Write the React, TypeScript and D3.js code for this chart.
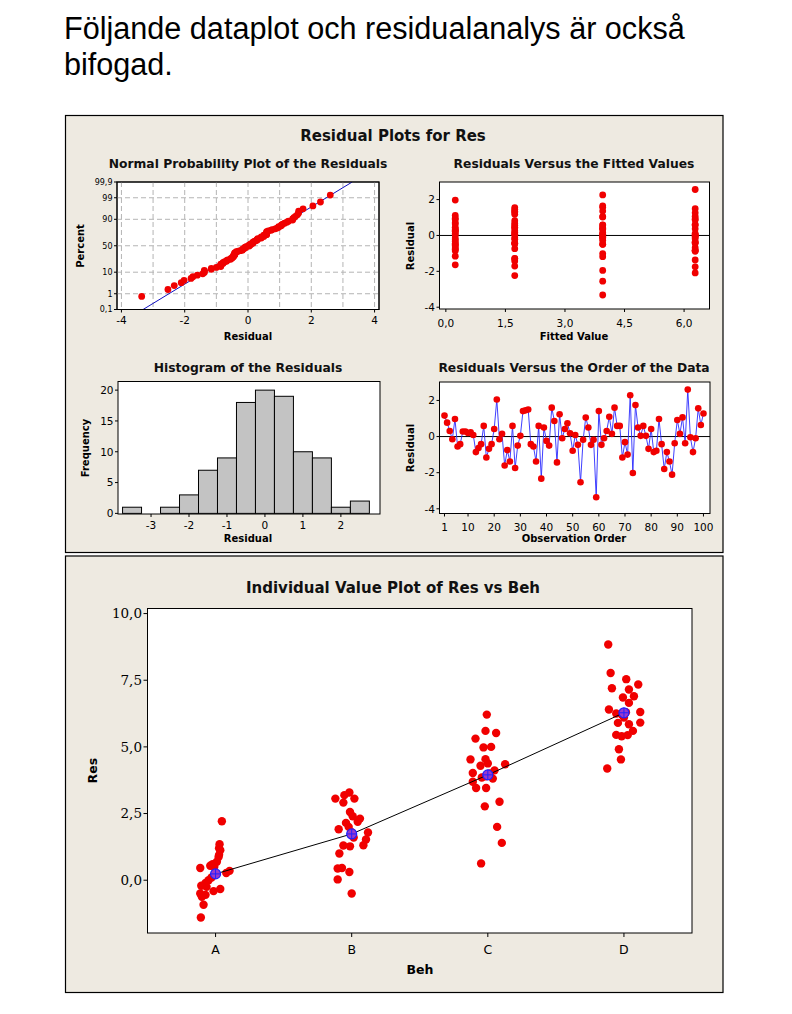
import React from 'react';
import * as d3 from 'd3';

// ---------- DATA ----------
// Residuals in observation order (1..100)
const residualsByOrder = [
  1.16, 0.77, 0.31, -0.15, 0.97, -0.55, -0.42, 0.28, 0.28, 0.2,
  0.24, 0.09, -0.86, -0.64, -0.42, 0.59, -1.16, -0.68, -0.42, 0.42,
  2.05, -0.15, 0.15, -1.6, -0.75, -1.38, 0.59, -1.74, -0.5, 0.04,
  1.41, 1.45, 1.5, -0.42, -0.55, -1.38, 0.59, -2.33, 0.5, -0.24,
  -0.5, 1.6, 0.86, -1.43, 1.23, -0.09, 0.42, 0.73, 0.18, -0.79,
  0.09, -0.46, -2.53, -0.18, 1.05, 0.5, -0.46, -0.18, -3.36, 1.41,
  -0.46, -0.09, 0.31, 1.1, 0.15, 1.6, 0.59, 0.59, -1.16, -0.31,
  -1.0, 2.29, -2.02, 1.74, 0.5, 0.04, 0.59, 0.04, -0.68, 0.42,
  -0.86, -0.79, 0.97, -0.42, -1.8, -0.86, -1.38, -2.11, -0.37, 0.92,
  0.15, 1.06, -0.37, 2.6, -0.04, -0.86, -0.09, 1.56, 0.64, 1.28,
];

// Histogram of residuals (bin centers, width 0.5)
const histCenters = [-3.5, -3.0, -2.5, -2.0, -1.5, -1.0, -0.5, 0, 0.5, 1.0, 1.5, 2.0, 2.5];
const histCounts = [1, 0, 1, 3, 7, 9, 18, 20, 19, 10, 9, 1, 2];

// Individual values of Res per level of Beh
const categories = ['A', 'B', 'C', 'D'];
const resA = [2.21, 1.35, 1.2, 1.12, 0.95, 0.87, 0.69, 0.6, 0.54, 0.46, 0.5, 0.35, 0.27, 0.1, 0.0, -0.1, -0.21, -0.25, -0.33, -0.41, -0.5, -0.55, -0.62, -0.92, -1.4];
const resB = [3.29, 3.19, 3.06, 3.06, 2.91, 2.56, 2.4, 2.31, 2.19, 2.15, 1.91, 2.0, 1.79, 1.8, 1.53, 1.31, 1.27, 1.3, 1.6, 1.0, 0.46, 0.44, 0.31, 0.03, -0.5];
const resC = [6.21, 5.6, 5.52, 5.31, 4.98, 5.0, 4.53, 4.54, 4.29, 4.35, 4.38, 4.02, 4.12, 3.81, 3.69, 3.46, 3.46, 2.94, 2.77, 2.0, 1.4, 0.63, 3.9, 4.0, 3.85];
const resD = [8.84, 7.77, 7.54, 7.34, 7.2, 7.15, 6.9, 6.85, 6.65, 6.4, 6.31, 6.25, 5.91, 5.9, 5.85, 5.6, 5.45, 5.4, 5.44, 4.91, 4.53, 4.19, 6.2, 6.3, 6.1];
// Horizontal jitter (in 1/136 of the category spacing)
const jitA = [6.3, 4, 3.5, 4.7, 3.5, 3, 1.3, -3, -5.3, -15.3, -1.3, 14, 10.7, -4, -7, -10, -14.3, -9, 4.7, -2, -15.3, -10, -13.7, -12, -14.7];
const jitB = [-2.3, -7.3, -16.3, 2.7, -8.3, -1.7, 1, 8.3, 6, -5.7, -13, -3, 16.3, 0, 14.3, 11.7, -1.7, -8.3, 2, -12.3, -9.7, -14, -2.3, -14, 0];
const jitC = [-1, -2.3, 8.3, -12.3, -4.3, 3.3, -17.3, -2.3, -7.3, 17.3, 0, -15, 6.7, 5, -15, -11.7, -1.7, 11.7, -3, 9.3, 14, -6.7, -2, 2, -6];
const jitD = [-15.7, -13.3, 2.3, 14.3, -12, 5, 10, -1, 5, -15, 16.3, -7.7, 16.3, -6, 5, 9, -7.7, -2.3, 3.7, -5, -3, -16.7, -2, 2, 0];
const groupValues = [resA, resB, resC, resD];
const groupJitter = [jitA, jitB, jitC, jitD];

// Tick values
const nppXTicks = [-4, -2, 0, 2, 4];
const nppGridX = [-4, -3, -2, -1, 0, 1, 2, 3, 4];
const nppProbTicks = [0.1, 1, 10, 50, 90, 99, 99.9];
const nppProbGrid = [1, 10, 50, 90, 99];
const fitXTicks = [0, 1.5, 3.0, 4.5, 6.0];
const resYTicks = [2, 0, -2, -4];
const histXTicks = [-3, -2, -1, 0, 1, 2];
const histYTicks = [0, 5, 10, 15, 20];
const orderXTicks = [1, 10, 20, 30, 40, 50, 60, 70, 80, 90, 100];
const ivpYTicks = [0, 2.5, 5, 7.5, 10];

// ---------- HELPERS ----------
const FONT = "'DejaVu Sans', Verdana, sans-serif";
const BG = '#eeeae1';
const RED = '#f00000';

function probit(p: number): number {
  const a = [-3.969683028665376e1, 2.209460984245205e2, -2.759285104469687e2, 1.38357751867269e2, -3.066479806614716e1, 2.506628277459239];
  const b = [-5.447609879822406e1, 1.615858368580409e2, -1.556989798598866e2, 6.680131188771972e1, -1.328068155288572e1];
  const c = [-7.784894002430293e-3, -3.223964580411365e-1, -2.400758277161838, -2.549732539343734, 4.374664141464968, 2.938163982698783];
  const d = [7.784695709041462e-3, 3.224671290700398e-1, 2.445134137142996, 3.754408661907416];
  const pl = 0.02425;
  if (p < pl) {
    const q = Math.sqrt(-2 * Math.log(p));
    return (((((c[0] * q + c[1]) * q + c[2]) * q + c[3]) * q + c[4]) * q + c[5]) / ((((d[0] * q + d[1]) * q + d[2]) * q + d[3]) * q + 1);
  }
  if (p <= 1 - pl) {
    const q = p - 0.5, r = q * q;
    return (((((a[0] * r + a[1]) * r + a[2]) * r + a[3]) * r + a[4]) * r + a[5]) * q / (((((b[0] * r + b[1]) * r + b[2]) * r + b[3]) * r + b[4]) * r + 1);
  }
  const q = Math.sqrt(-2 * Math.log(1 - p));
  return -(((((c[0] * q + c[1]) * q + c[2]) * q + c[3]) * q + c[4]) * q + c[5]) / ((((d[0] * q + d[1]) * q + d[2]) * q + d[3]) * q + 1);
}

const comma = (v: number, dec: number) => v.toFixed(dec).replace('.', ',');

function Frame({ x0, x1, y0, y1 }: any) {
  return <rect x={x0} y={y0} width={x1 - x0} height={y1 - y0} fill="#fff" stroke="#000" strokeWidth={1} />;
}

function LeftAxis({ ticks, pos, x, fmt, fontSize, len = 3, family = FONT }: any) {
  return (
    <g>
      {ticks.map((t: number, i: number) => (
        <g key={i}>
          <line x1={x - len} x2={x} y1={pos(t)} y2={pos(t)} stroke="#000" />
          <text x={x - len - 1.5} y={pos(t)} dy="0.36em" textAnchor="end" fontSize={fontSize} fontFamily={family}>{fmt(t)}</text>
        </g>
      ))}
    </g>
  );
}

function BottomAxis({ ticks, pos, y, fmt, fontSize, labelY, len = 3 }: any) {
  return (
    <g>
      {ticks.map((t: number, i: number) => (
        <g key={i}>
          <line x1={pos(t)} x2={pos(t)} y1={y} y2={y + len} stroke="#000" />
          <text x={pos(t)} y={labelY} textAnchor="middle" fontSize={fontSize}>{fmt(t)}</text>
        </g>
      ))}
    </g>
  );
}

function Title({ x, y, children, size = 12.3 }: any) {
  return <text x={x} y={y} textAnchor="middle" fontWeight="bold" fontSize={size} fill="#111">{children}</text>;
}

function XLabel({ x, y, children, size = 10 }: any) {
  return <text x={x} y={y} textAnchor="middle" fontWeight="bold" fontSize={size}>{children}</text>;
}

function YLabel({ x, y, children, size = 10 }: any) {
  return <text transform={`translate(${x},${y}) rotate(-90)`} textAnchor="middle" fontWeight="bold" fontSize={size}>{children}</text>;
}

// ---------- PANELS ----------
function NormalPlot() {
  const x0 = 117, x1 = 379, y0 = 182, y1 = 309.5;
  const x = d3.scaleLinear().domain([-4.14, 4.14]).range([x0, x1]);
  const zMin = probit(0.001), zMax = probit(0.999);
  const y = d3.scaleLinear().domain([zMin, zMax]).range([y1, y0]);
  const py = (p: number) => y(probit(p / 100));
  const sorted = [...residualsByOrder].sort((a, b) => a - b);
  const n = sorted.length;
  const mean = d3.mean(sorted) as number;
  const sd = d3.deviation(sorted) as number;
  return (
    <g>
      <defs>
        <clipPath id="clipNpp"><rect x={x0} y={y0} width={x1 - x0} height={y1 - y0} /></clipPath>
      </defs>
      <Frame x0={x0} x1={x1} y0={y0} y1={y1} />
      {nppGridX.map((g, i) => (
        <line key={'gx' + i} x1={x(g)} x2={x(g)} y1={y0} y2={y1} stroke="#b4b4b4" strokeDasharray="5,3" />
      ))}
      {nppProbGrid.map((g, i) => (
        <line key={'gy' + i} x1={x0} x2={x1} y1={py(g)} y2={py(g)} stroke="#b4b4b4" strokeDasharray="5,3" />
      ))}
      <line clipPath="url(#clipNpp)" x1={x(mean + sd * zMin)} y1={y(zMin)} x2={x(mean + sd * zMax)} y2={y(zMax)} stroke="#1010c0" strokeWidth={1} />
      {sorted.map((r, i) => (
        <circle key={i} cx={x(r)} cy={y(probit((i + 1 - 0.3) / (n + 0.4)))} r={3.4} fill={RED} />
      ))}
      <rect x={x0} y={y0} width={x1 - x0} height={y1 - y0} fill="none" stroke="#000" />
      <LeftAxis ticks={nppProbTicks} pos={py} x={x0} fmt={(t: number) => (t % 1 === 0 ? String(t) : comma(t, 1))} fontSize={8} />
      <BottomAxis ticks={nppXTicks} pos={x} y={y1} fmt={(t: number) => String(t)} fontSize={10.5} labelY={323.5} />
      <Title x={248} y={167.5}>Normal Probability Plot of the Residuals</Title>
      <XLabel x={248} y={339.5}>Residual</XLabel>
      <YLabel x={83.5} y={246}>Percent</YLabel>
    </g>
  );
}

function FittedPlot() {
  const x0 = 439.5, x1 = 709.5, y0 = 182, y1 = 309;
  const x = d3.scaleLinear().domain([-0.16, 6.64]).range([x0, x1]);
  const y = d3.scaleLinear().domain([-4.1, 2.98]).range([y1, y0]);
  const means = groupValues.map((g) => d3.mean(g) as number);
  return (
    <g>
      <Frame x0={x0} x1={x1} y0={y0} y1={y1} />
      <line x1={x0} x2={x1} y1={y(0)} y2={y(0)} stroke="#000" />
      {groupValues.map((g, gi) =>
        g.map((v, i) => <circle key={gi + '-' + i} cx={x(means[gi])} cy={y(v - means[gi])} r={3.4} fill={RED} />)
      )}
      <LeftAxis ticks={resYTicks} pos={y} x={x0} fmt={(t: number) => String(t)} fontSize={10.5} />
      <BottomAxis ticks={fitXTicks} pos={x} y={y1} fmt={(t: number) => comma(t, 1)} fontSize={10.5} labelY={327} />
      <Title x={574} y={167.5}>Residuals Versus the Fitted Values</Title>
      <XLabel x={574} y={340}>Fitted Value</XLabel>
      <YLabel x={413.5} y={246}>Residual</YLabel>
    </g>
  );
}

function HistPlot() {
  const x0 = 118, x1 = 380, y0 = 381.5, y1 = 514;
  const x = d3.scaleLinear().domain([-3.87, 3.03]).range([x0, x1]);
  const y = d3.scaleLinear().domain([-0.1, 21.4]).range([y1, y0]);
  const w = 0.5;
  return (
    <g>
      <Frame x0={x0} x1={x1} y0={y0} y1={y1} />
      {histCenters.map((c, i) => (
        <rect key={i} x={x(c - w / 2)} y={y(histCounts[i])} width={x(c + w / 2) - x(c - w / 2)} height={y(0) - y(histCounts[i])} fill="#c3c3c3" stroke="#000" strokeWidth={1} />
      ))}
      <LeftAxis ticks={histYTicks} pos={y} x={x0} fmt={(t: number) => String(t)} fontSize={10.5} />
      <BottomAxis ticks={histXTicks} pos={x} y={y1} fmt={(t: number) => String(t)} fontSize={10.5} labelY={529} />
      <Title x={248} y={372}>Histogram of the Residuals</Title>
      <XLabel x={248} y={541.5}>Residual</XLabel>
      <YLabel x={89} y={448}>Frequency</YLabel>
    </g>
  );
}

function OrderPlot() {
  const x0 = 439.5, x1 = 710, y0 = 382, y1 = 513.5;
  const x = d3.scaleLinear().domain([-0.91, 102.5]).range([x0, x1]);
  const y = d3.scaleLinear().domain([-4.26, 3.02]).range([y1, y0]);
  const line = d3.line<number>().x((_, i) => x(i + 1)).y((v) => y(v));
  return (
    <g>
      <Frame x0={x0} x1={x1} y0={y0} y1={y1} />
      <line x1={x0} x2={x1} y1={y(0)} y2={y(0)} stroke="#000" />
      <path d={line(residualsByOrder) as string} fill="none" stroke="#2a2aff" strokeWidth={0.9} />
      {residualsByOrder.map((v, i) => (
        <circle key={i} cx={x(i + 1)} cy={y(v)} r={3.3} fill={RED} />
      ))}
      <LeftAxis ticks={resYTicks} pos={y} x={x0} fmt={(t: number) => String(t)} fontSize={10.5} />
      <BottomAxis ticks={orderXTicks} pos={x} y={y1} fmt={(t: number) => String(t)} fontSize={10.5} labelY={530.5} />
      <Title x={574} y={372}>Residuals Versus the Order of the Data</Title>
      <XLabel x={574} y={542}>Observation Order</XLabel>
      <YLabel x={413.5} y={448}>Residual</YLabel>
    </g>
  );
}

function IndividualValuePlot() {
  const x0 = 147.5, x1 = 692, y0 = 608.5, y1 = 933;
  const x = d3.scalePoint<string>().domain(categories).range([x0, x1]).padding(0.5);
  const y = d3.scaleLinear().domain([-1.98, 10.19]).range([y1, y0]);
  const step = x.step();
  const means = groupValues.map((g) => d3.mean(g) as number);
  const meanLine = d3.line<number>().x((_, i) => x(categories[i]) as number).y((m) => y(m));
  return (
    <g>
      <Frame x0={x0} x1={x1} y0={y0} y1={y1} />
      {groupValues.map((g, gi) =>
        g.map((v, i) => (
          <circle key={gi + '-' + i} cx={(x(categories[gi]) as number) + (groupJitter[gi][i] / 136) * step} cy={y(v)} r={4.2} fill={RED} />
        ))
      )}
      <path d={meanLine(means) as string} fill="none" stroke="#000" strokeWidth={1} />
      {means.map((m, i) => {
        const cx = x(categories[i]) as number, cy = y(m);
        return (
          <g key={i}>
            <circle cx={cx} cy={cy} r={5} fill="#9a3acb" stroke="#2020ff" strokeWidth={1.2} />
            <line x1={cx - 5} x2={cx + 5} y1={cy} y2={cy} stroke="#2020ff" strokeWidth={1} />
            <line x1={cx} x2={cx} y1={cy - 5} y2={cy + 5} stroke="#2020ff" strokeWidth={1} />
          </g>
        );
      })}
      <LeftAxis ticks={ivpYTicks} pos={y} x={x0} fmt={(t: number) => comma(t, 1)} fontSize={13.5} len={4} family="'DejaVu Serif', Georgia, serif" />
      {categories.map((c, i) => (
        <g key={i}>
          <line x1={x(c) as number} x2={x(c) as number} y1={y1} y2={y1 + 4} stroke="#000" />
          <text x={x(c) as number} y={954} textAnchor="middle" fontSize={12.5}>{c}</text>
        </g>
      ))}
      <Title x={393} y={592.5} size={15}>Individual Value Plot of Res vs Beh</Title>
      <XLabel x={420} y={974} size={12.5}>Beh</XLabel>
      <YLabel x={96.8} y={770.7} size={12.5}>Res</YLabel>
    </g>
  );
}

export default function App() {
  return (
    <svg width={792} height={1014} style={{ position: 'absolute', left: 0, top: 0, background: '#fff' }} fontFamily={FONT}>
      <rect x={0} y={0} width={792} height={1014} fill="#fff" />
      <text x={64} y={38.5} fontFamily="'Liberation Sans', Arial, sans-serif" fontSize={30.6} fill="#000">Följande dataplot och residualanalys är också</text>
      <text x={64} y={74.5} fontFamily="'Liberation Sans', Arial, sans-serif" fontSize={30.6} fill="#000">bifogad.</text>
      <rect x={65.5} y={115.5} width={657.5} height={437} fill={BG} stroke="#000" strokeWidth={1.2} />
      <rect x={65.5} y={556} width={657.5} height={436.5} fill={BG} stroke="#000" strokeWidth={1.2} />
      <Title x={393} y={141} size={15}>Residual Plots for Res</Title>
      <NormalPlot />
      <FittedPlot />
      <HistPlot />
      <OrderPlot />
      <IndividualValuePlot />
    </svg>
  );
}
